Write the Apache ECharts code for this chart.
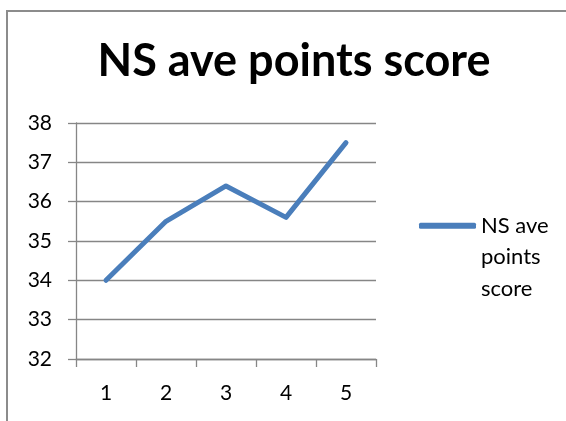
<!DOCTYPE html>
<html>
<head>
<meta charset="utf-8">
<script src="https://cdn.jsdelivr.net/npm/echarts@6/dist/echarts.min.js"></script>
<style>
  html, body { margin: 0; padding: 0; background: #fff; overflow: hidden; width: 566px; height: 421px; }
  #frame {
    position: absolute; left: 6px; top: 10px; width: 560px; height: 411px;
    border-left: 2px solid #8c8c8c; border-top: 2px solid #8c8c8c;
    box-sizing: border-box;
  }
  #chart { position: absolute; left: 0; top: 0; width: 566px; height: 421px; }
</style>
</head>
<body>
<div id="frame"></div>
<div id="chart"></div>
<script>
// data
const categories = ['1', '2', '3', '4', '5']
const scores = [34, 35.5, 36.4, 35.6, 37.5]
const seriesName = 'NS ave points score'

const chart = echarts.init(document.getElementById('chart'))

const axisGray = '#868686'
const font = 'Lato, "Open Sans", sans-serif'

const option = {
  animation: false,
  title: {
    text: 'NS ave points score',
    left: 289,
    textAlign: 'center',
    top: 34,
    textStyle: { fontFamily: font, fontSize: 45, fontWeight: 'bold', color: '#000' }
  },
  legend: {
    left: 414,
    top: 142,
    orient: 'vertical',
    itemWidth: 57,
    itemHeight: 6,
    itemGap: 4,
    icon: 'roundRect',
    formatter: () => '\n\nNS ave\npoints\nscore',
    textStyle: { fontFamily: font, fontSize: 22, color: '#000', lineHeight: 31.5 },
    data: [seriesName]
  },
  grid: { left: 76, right: 190, top: 123, bottom: 62 },
  xAxis: {
    type: 'category',
    data: categories,
    boundaryGap: true,
    axisLine: { lineStyle: { color: axisGray, width: 1.3 } },
    axisTick: { show: true, length: 8, lineStyle: { color: axisGray, width: 1.3 } },
    axisLabel: { margin: 24, fontFamily: font, fontSize: 21, color: '#000' }
  },
  yAxis: {
    type: 'value',
    min: 32,
    max: 38,
    interval: 1,
    axisLine: { show: true, lineStyle: { color: axisGray, width: 1.3 } },
    axisTick: { show: true, length: 8, lineStyle: { color: axisGray, width: 1.3 } },
    splitLine: { lineStyle: { color: axisGray, width: 1.3 } },
    axisLabel: { margin: 24, fontFamily: font, fontSize: 21, color: '#000' }
  },
  series: [
    {
      name: seriesName,
      type: 'line',
      data: scores,
      symbol: 'none',
      color: '#4a7ebb',
      lineStyle: { width: 5, cap: 'round', join: 'round' }
    }
  ]
}

chart.setOption(option)
</script>
</body>
</html>
